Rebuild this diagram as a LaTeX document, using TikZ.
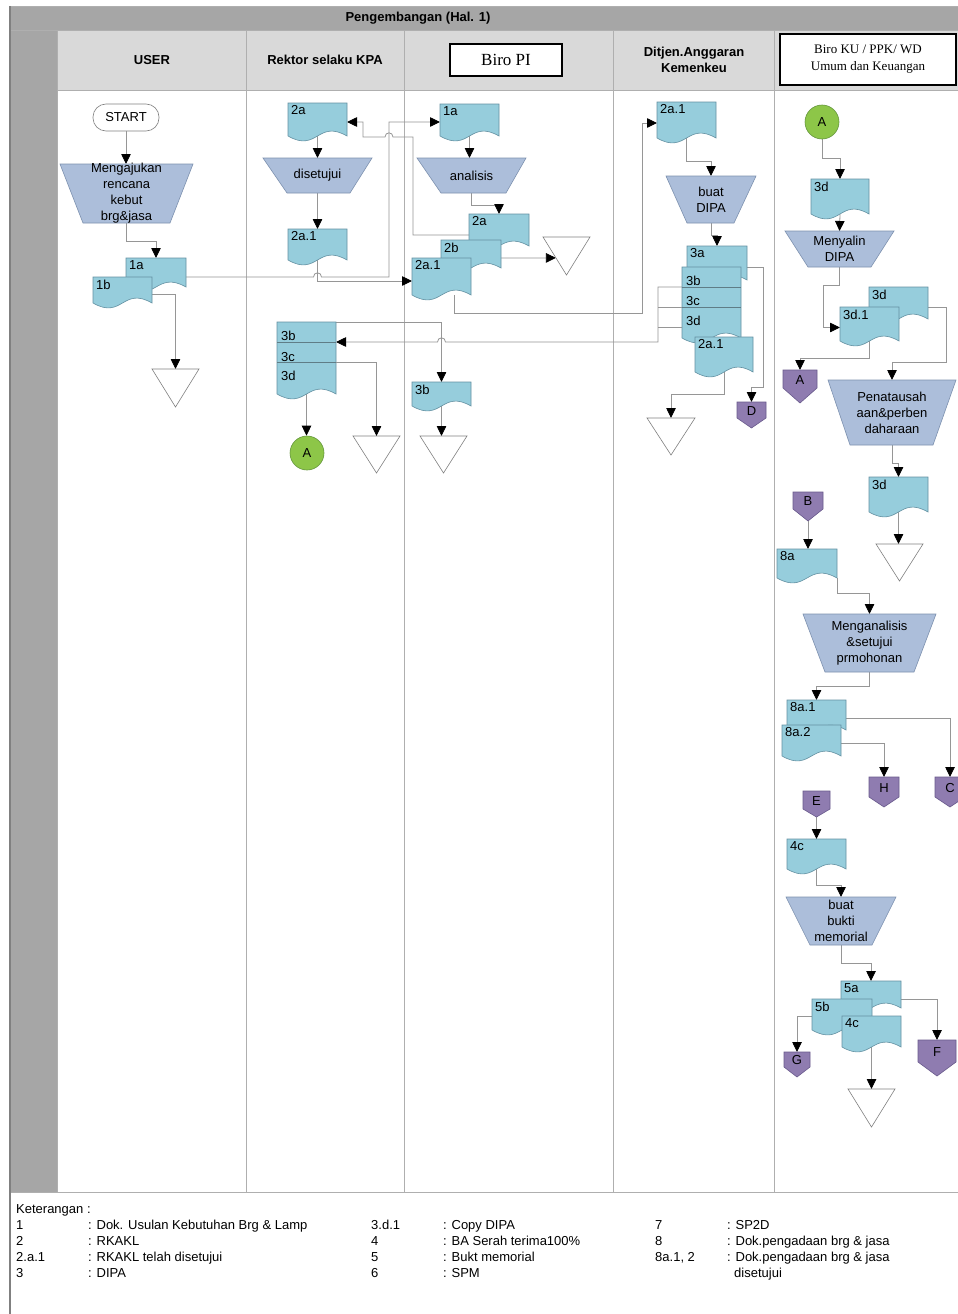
\documentclass[tikz,border=0pt]{standalone}
\usepackage{fontspec}
\setmainfont{Liberation Sans}
\newfontfamily\serifont{Liberation Serif}
\usetikzlibrary{arrows.meta,calc,fit}
\pgfdeclarelayer{bg}
\pgfsetlayers{bg,main}

\definecolor{docc}{RGB}{150,205,220}
\definecolor{docb}{RGB}{100,145,162}
\definecolor{trapc}{RGB}{172,190,218}
\definecolor{trapb}{RGB}{125,145,175}
\definecolor{purp}{RGB}{143,124,176}
\definecolor{purpb}{RGB}{105,90,140}
\definecolor{grn}{RGB}{141,198,72}
\definecolor{grnb}{RGB}{100,150,60}
\definecolor{lnc}{RGB}{150,150,150}
\definecolor{inln}{RGB}{95,125,135}
\definecolor{hdr}{RGB}{217,217,217}
\definecolor{band}{RGB}{166,166,166}
\definecolor{lanec}{RGB}{175,175,175}

\tikzset{
  txt/.style={font=\fontsize{13}{16}\selectfont, inner sep=0pt, align=center},
  hb/.style={font=\fontsize{13}{16}\selectfont\bfseries, inner sep=0pt, align=center},
  lg/.style={font=\fontsize{13}{16}\selectfont, inner sep=0pt, anchor=base west},
  docsty/.style={fill=docc, draw=docb, line width=0.6pt},
  trapsty/.style={fill=trapc, draw=trapb, line width=0.6pt},
  offsty/.style={fill=purp, draw=purpb, line width=0.6pt},
  tristy/.style={fill=white, draw=gray, line width=0.6pt},
  box/.style={inner sep=0pt, outer sep=0pt},
  conn/.style={draw=lnc, line width=0.8pt, -{Triangle[width=9.5pt,length=10pt,color=black]}},
  ln/.style={draw=lnc, line width=0.8pt},
  inner line/.style={draw=inln, line width=0.8pt},
  lane/.style={draw=lanec, line width=0.8pt},
}

% document shape: name, x1, y1, x2, yb, label
\newcommand\Doc[6]{%
  \path[docsty] (#2,#3) -- (#4,#3) -- (#4,#5) .. controls ({(#2+#4)/2},{#5-17}) and ({(#2+#4)/2},{#5+17}) .. (#2,#5) -- cycle;
  \node[box, fit={(#2,#3) (#4,#5)}] (#1) {};
  \node[txt, anchor=north west] (#1-l) at ({#2+3},{#3+2.5}) {#6};
}
% manual operation: name, x1, x2, y1, xb1, xb2, y2, text
\newcommand\Trap[8]{%
  \path[trapsty] (#2,#4) -- (#3,#4) -- (#6,#7) -- (#5,#7) -- cycle;
  \node[box, fit={(#2,#4) (#3,#7)}] (#1) {};
  \node[txt] (#1-t) at (#1.center) {#8};
}
% merge triangle: name, x1, x2, ytop, yapex
\newcommand\Tri[5]{%
  \path[tristy] (#2,#4) -- (#3,#4) -- ({(#2+#3)/2},#5) -- cycle;
  \node[box, fit={(#2,#4) (#3,#5)}] (#1) {};
}
% off-page connector: name, x1, x2, ytop, yshoulder, yapex, label
\newcommand\Off[7]{%
  \path[offsty] (#2,#4) -- (#3,#4) -- (#3,#5) -- ({(#2+#3)/2},#6) -- (#2,#5) -- cycle;
  \node[box, fit={(#2,#4) (#3,#6)}] (#1) {};
  \node[txt] (#1-t) at ({(#2+#3)/2},{(#4+#5)/2+1}) {#7};
}

\begin{document}
\begin{tikzpicture}[x=1pt,y=-1pt]
\useasboundingbox (0,0) rectangle (958,1314);

\begin{pgfonlayer}{bg}
  \fill[white] (0,0) rectangle (958,1314);
  \fill[band] (10,6) rectangle (958,30);
  \fill[band] (10,30) rectangle (57,1192);
  \fill[hdr] (57,30) rectangle (958,90);
  \draw[lane] (10,6) -- (958,6);
  \draw[lane] (10,30) -- (958,30);
  \draw[lane] (57,90) -- (958,90);
  \draw[lane] (10,1192) -- (958,1192);
  \draw[draw=gray, line width=1.2pt] (10,6) -- (10,1314);
  \draw[lane] (57,30) -- (57,1192);
  \draw[lane] (246,30) -- (246,1192);
  \draw[lane] (404,30) -- (404,1192);
  \draw[lane] (613,30) -- (613,1192);
  \draw[lane] (774,30) -- (774,1192);
\end{pgfonlayer}

% ---------- headers ----------
\node[hb] (title) at (418,18) {Pengembangan (Hal. 1)};
\node[hb] (huser) at (152,60) {USER};
\node[hb] (hrektor) at (325,60) {Rektor selaku KPA};
\node[draw=black, line width=2pt, fill=white, minimum width=112pt, minimum height=32pt, inner sep=0pt,
      font=\serifont\fontsize{17}{20}\selectfont] (hbiropi) at (506,60) {Biro PI};
\node[hb] (hditjen) at (694,60) {Ditjen.Anggaran\\Kemenkeu};
\node[draw=black, line width=2pt, fill=white, minimum width=176pt, minimum height=51pt, inner sep=0pt, align=center,
      font=\serifont\fontsize{13}{17}\selectfont] (hbiroku) at (868,59.5) {Biro KU / PPK/ WD\\Umum dan Keuangan};

% ---------- USER ----------
\node[draw=gray, line width=0.6pt, fill=white, rounded corners=13pt, minimum width=66pt, minimum height=27pt, txt] (start) at (126,117.5) {START};
\Trap{umgj}{60}{193}{164}{83}{170}{223}{Mengajukan\\rencana\\kebut\\brg\&jasa}
\Doc{u1a}{126}{258}{186}{287}{1a}
\Doc{u1b}{93}{277}{152}{303}{1b}
\Tri{utri}{152}{199}{369}{407}

% ---------- Rektor ----------
\Doc{r2a}{288}{103}{347}{136}{2a}
\Trap{rset}{263}{372}{158}{287}{350}{193}{disetujui}
\Doc{r2a1}{288}{229}{347}{260}{2a.1}
\Doc{rstk}{277}{322}{336}{394}{}
\node[txt, anchor=west] (rstk-b) at (281,336) {3b};
\node[txt, anchor=west] (rstk-c) at (281,357) {3c};
\node[txt, anchor=west] (rstk-d) at (281,376) {3d};
\node[circle, fill=grn, draw=grnb, line width=0.6pt, minimum size=34pt, txt] (rA) at (307,453) {A};
\Tri{rtri}{353}{400}{436}{473}

% ---------- Biro PI ----------
\Doc{p1a}{440}{104}{499}{136}{1a}
\Trap{pana}{417}{526}{158}{441}{506}{193}{analisis}
\Doc{p2a}{469}{214}{529}{246}{2a}
\Doc{p2b}{441}{240}{501}{268}{2b}
\Doc{p2a1}{412}{258}{471}{295}{2a.1}
\Tri{ptri1}{543}{590}{237}{275}
\Doc{p3b}{412}{382}{471}{406}{3b}
\Tri{ptri2}{420}{467}{436}{473}

% ---------- Ditjen ----------
\Doc{d2a1}{657}{102}{716}{138}{2a.1}
\Trap{dbuat}{666}{756}{176}{687}{734}{223}{buat\\DIPA}
\Doc{d3a}{687}{246}{747}{280}{3a}
\Doc{dstk}{682}{267}{741}{338}{}
\node[txt, anchor=west] (dstk-b) at (686,281) {3b};
\node[txt, anchor=west] (dstk-c) at (686,301) {3c};
\node[txt, anchor=west] (dstk-d) at (686,321) {3d};
\Doc{d2a1b}{695}{337}{753}{372}{2a.1}
\Off{dD}{737}{766}{402}{418}{428}{D}
\Tri{dtri}{647}{695}{418}{455}

% ---------- Biro KU ----------
\node[circle, fill=grn, draw=grnb, line width=0.6pt, minimum size=34pt, txt] (kA) at (822,122) {A};
\Doc{k3d}{811}{179}{869}{214}{3d}
\Trap{kmen}{785}{894}{231}{808}{871}{267}{Menyalin\\DIPA}
\Doc{k3d2}{869}{287}{928}{319}{3d}
\Doc{k3d1}{840}{307}{899}{341}{3d.1}
\Off{kA2}{783}{817}{370}{388}{403}{A}
\Trap{kpen}{828}{956}{380}{850}{933}{445}{Penatausah\\aan\&perben\\daharaan}
\Doc{k3d3}{869}{477}{928}{512}{3d}
\Tri{ktri1}{876}{923}{544}{581}
\Off{kB}{793}{823}{492}{509}{521}{B}
\Doc{k8a}{777}{549}{837}{578}{8a}
\Trap{kmeng}{803}{936}{614}{825}{914}{672}{Menganalisis\\\&setujui\\prmohonan}
\Doc{k8a1}{787}{700}{846}{730}{8a.1}
\Doc{k8a2}{782}{725}{841}{756}{8a.2}
\Off{kH}{869}{899}{777}{797}{807}{H}
\Off{kC}{935}{965}{777}{797}{807}{C}
\Off{kE}{803}{830}{791}{809}{817}{E}
\Doc{k4c}{787}{839}{846}{869}{4c}
\Trap{kbukti}{786}{896}{897}{810}{872}{945}{buat\\bukti\\memorial}
\Doc{k5a}{841}{981}{901}{1008}{5a}
\Doc{k5b}{812}{999}{872}{1030}{5b}
\Doc{k4c2}{842}{1016}{901}{1047}{4c}
\Off{kF}{918}{956}{1040}{1062}{1076}{F}
\Off{kG}{784}{810}{1052}{1067}{1077}{G}
\Tri{ktri2}{848}{895}{1089}{1127}

% ---------- lines inside the stacks ----------
\draw[inner line] ([yshift=-20pt]rstk.north west) -- ([yshift=-20pt]rstk.north east);
\draw[inner line] ([yshift=-40pt]rstk.north west) -- ([yshift=-40pt]rstk.north east);
\draw[conn] ([yshift=-40pt]rstk.north east) -| (rtri.north);
\draw[inner line] ([yshift=-20pt]dstk.north west) -- ([yshift=-20pt]dstk.north east);
\draw[inner line] ([yshift=-40pt]dstk.north west) -- ([yshift=-40pt]dstk.north east);
\draw[ln] (658,307) -- ([yshift=-40pt]dstk.north west);
\draw[ln] (658,327) -- ([yshift=-60pt]dstk.north west);

% ---------- connectors ----------
\begin{pgfonlayer}{bg}
  % USER
  \draw[conn] (start.south) -- (start.south |- umgj.north);
  \draw[conn] (umgj.south) |- ($(u1a.north)+(0,-17)$) -- (u1a.north);
  \draw[conn] ([yshift=-4pt]u1b.east) -| (utri.north);
  \draw[conn] ([yshift=-4.5pt]u1a.east) -- (313.5,277) .. controls (313.5,271.5) and (321.5,271.5) .. (321.5,277)
              -- (389,277) |- ([yshift=-2pt]p1a.west);
  % Rektor
  \draw[conn] ([yshift=-5pt]p2a.west) -| (413,137) -- (393,137) .. controls (393,131.5) and (385,131.5) .. (385,137)
              -- (363,137) |- ([yshift=-2.5pt]r2a.east);
  \draw[conn] (r2a.south) -- (rset.north);
  \draw[conn] (rset.south) -- (r2a1.north);
  \draw[conn] (r2a1.south) |- ([yshift=-4.5pt]p2a1.west);
  \draw[conn] (rstk.north east) -| (p3b.north);
  \draw[conn] (rstk.south) -- (rstk.south |- rA.north);
  % Biro PI
  \draw[conn] (p1a.south) -- (p1a.south |- pana.north);
  \draw[conn] (pana.south) |- ($(p2a.north)+(0,-9)$) -- (p2a.north);
  \draw[conn] ([yshift=-4pt]p2b.east) -- ($(ptri1.north west)!0.55!(ptri1.south)$);
  \draw[conn] ([xshift=12.5pt]p2a1.south) |- (642,313) |- ([yshift=-3pt]d2a1.west);
  \draw[conn] (p3b.south) -- (p3b.south |- ptri2.north);
  % Ditjen
  \draw[conn] (d2a1.south) |- ($(dbuat.north)+(0,-15)$) -- (dbuat.north);
  \draw[conn] (dbuat.south) |- ($(d3a.north)+(0,-11)$) -- (d3a.north);
  \draw[conn] ([yshift=-4pt]d3a.east) -- (763,267) -- (763,387) -| (dD.north);
  \draw[conn] (d2a1b.south) |- ($(dtri.north)+(0,-24)$) -- (dtri.north);
  \draw[conn] ([yshift=-20pt]dstk.north west) -- (658,287) -- (658,342)
              -- (445.5,342) .. controls (445.5,336.5) and (437.5,336.5) .. (437.5,342)
              -- ([yshift=-20pt]rstk.north east);
  % Biro KU
  \draw[conn] (kA.south) |- ($(k3d.north)+(0,-21)$) -- (k3d.north);
  \draw[conn] (k3d.south) -- (kmen.north);
  \draw[conn] (kmen.south) |- (823,285) |- ([yshift=-3.5pt]k3d1.west);
  \draw[conn] (k3d1.south) |- ($(kA2.north)+(0,-12)$) -- (kA2.north);
  \draw[conn] ([yshift=-4pt]k3d2.east) -- (946,307) |- ($(kpen.north)+(0,-18)$) -- (kpen.north);
  \draw[conn] (kpen.south) |- ($(k3d3.north)+(0,-14)$) -- (k3d3.north);
  \draw[conn] (k3d3.south) -- (k3d3.south |- ktri1.north);
  \draw[conn] (kB.south) -- (kB.south |- k8a.north);
  \draw[conn] (k8a.south east) |- ($(kmeng.north)+(0,-21)$) -- (kmeng.north);
  \draw[conn] (kmeng.south) |- ($(k8a1.north)+(0,-14)$) -- (k8a1.north);
  \draw[conn] ([yshift=-3pt]k8a1.east) -| (kC.north);
  \draw[conn] ([yshift=-2.5pt]k8a2.east) -| (kH.north);
  \draw[conn] (kE.south) -- (kE.south |- k4c.north);
  \draw[conn] (k4c.south) |- ($(kbukti.north)+(0,-12)$) -- (kbukti.north);
  \draw[conn] (kbukti.south) |- ($(k5a.north)+(0,-18)$) -- (k5a.north);
  \draw[conn] ([yshift=-4.5pt]k5a.east) -| (kF.north);
  \draw[conn] ([yshift=-1.5pt]k5b.west) -| (kG.north);
  \draw[conn] (k4c2.south) -- (k4c2.south |- ktri2.north);
\end{pgfonlayer}

% ---------- legend ----------
\node[lg] (lk) at (16,1213) {Keterangan :};
\node[lg] (l1n) at (16,1229) {1};
\node[lg] (l1t) at (88,1229) {: Dok. Usulan Kebutuhan Brg \& Lamp};
\node[lg] (l2n) at (16,1245) {2};
\node[lg] (l2t) at (88,1245) {: RKAKL};
\node[lg] (l3n) at (16,1261) {2.a.1};
\node[lg] (l3t) at (88,1261) {: RKAKL telah disetujui};
\node[lg] (l4n) at (16,1277) {3};
\node[lg] (l4t) at (88,1277) {: DIPA};
\node[lg] (m1n) at (371,1229) {3.d.1};
\node[lg] (m1t) at (443,1229) {: Copy DIPA};
\node[lg] (m2n) at (371,1245) {4};
\node[lg] (m2t) at (443,1245) {: BA Serah terima100\%};
\node[lg] (m3n) at (371,1261) {5};
\node[lg] (m3t) at (443,1261) {: Bukt memorial};
\node[lg] (m4n) at (371,1277) {6};
\node[lg] (m4t) at (443,1277) {: SPM};
\node[lg] (r1n) at (655,1229) {7};
\node[lg] (r1t) at (727,1229) {: SP2D};
\node[lg] (r2n) at (655,1245) {8};
\node[lg] (r2t) at (727,1245) {: Dok.pengadaan brg \& jasa};
\node[lg] (r3n) at (655,1261) {8a.1, 2};
\node[lg] (r3t) at (727,1261) {: Dok.pengadaan brg \& jasa};
\node[lg] (r4t) at (734,1277) {disetujui};
\end{tikzpicture}
\end{document}
